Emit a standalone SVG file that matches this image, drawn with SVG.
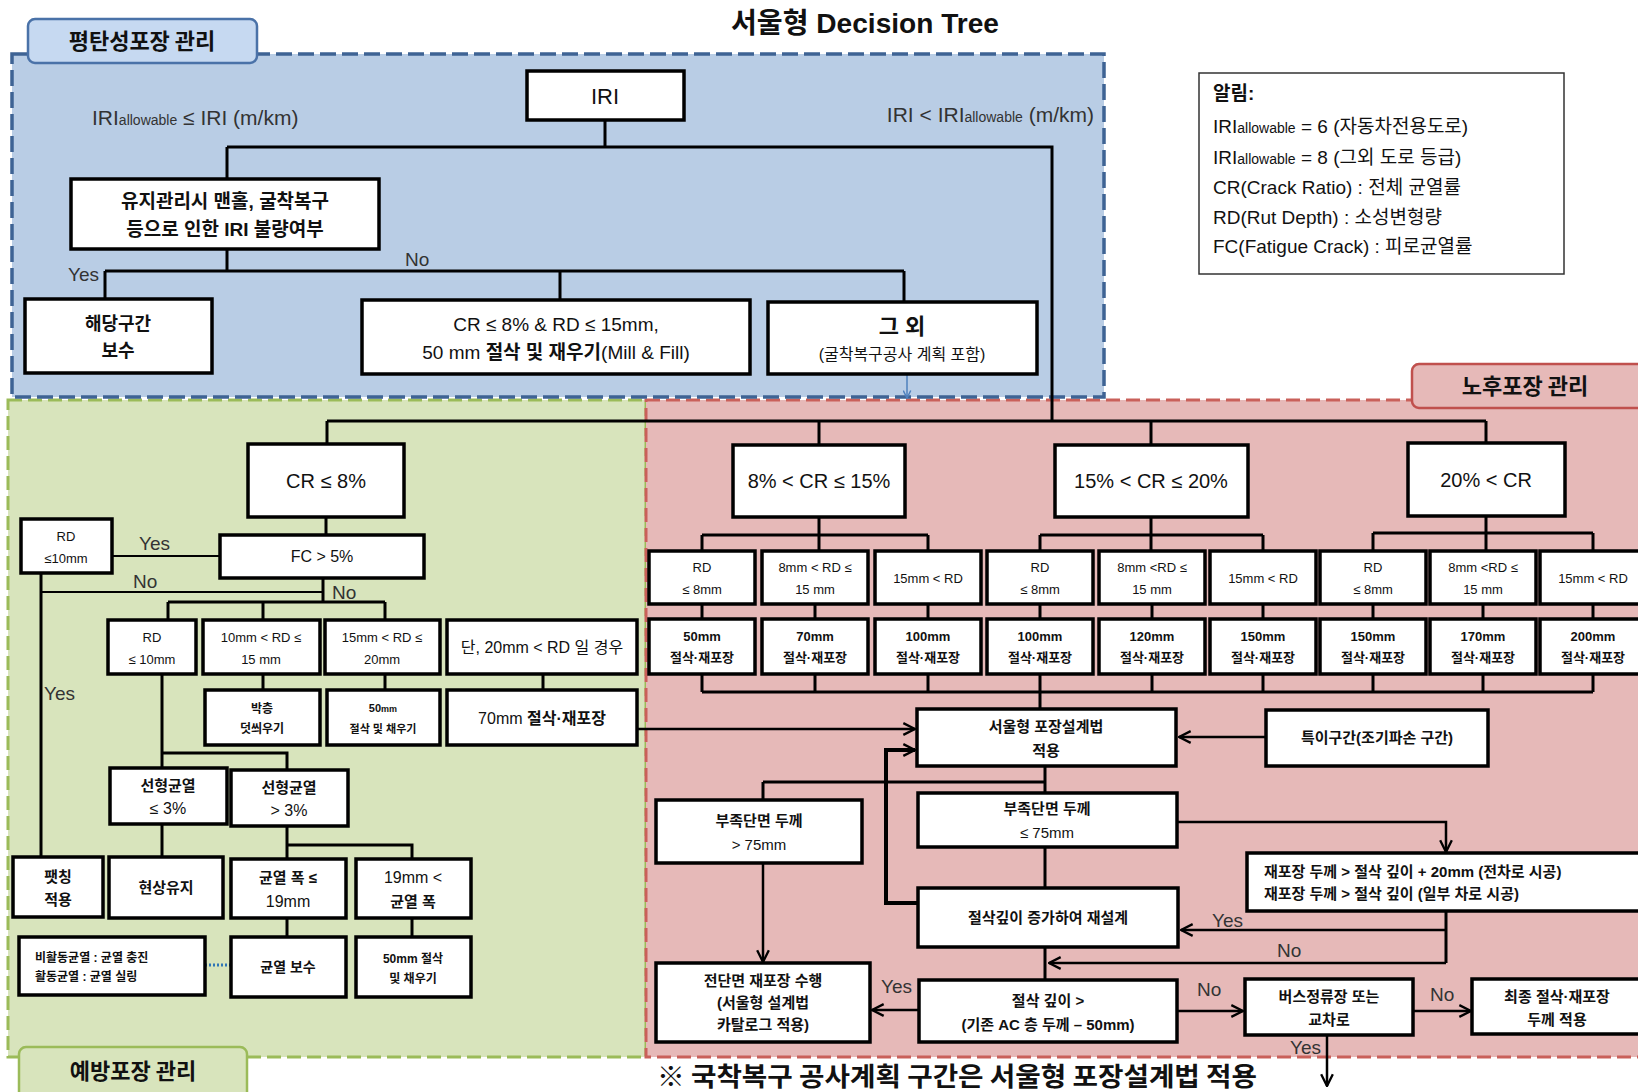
<svg xmlns="http://www.w3.org/2000/svg" width="1638" height="1092" viewBox="0 0 1638 1092">
<defs>
<style>
.t{font-family:'Liberation Sans','Noto Sans CJK KR',sans-serif;fill:#111;text-anchor:middle}
.k{font-family:'Liberation Sans','Noto Sans CJK KR',sans-serif;font-weight:700;fill:#111;text-anchor:middle}
.s{text-anchor:start}
.lab{font-family:'Liberation Sans','Noto Sans CJK KR',sans-serif;fill:#333;font-size:19px}
.box{fill:#fff;stroke:#000;stroke-width:3.5}
.c{fill:none;stroke:#000;stroke-width:3}
.ct{fill:none;stroke:#000;stroke-width:2}
.a{fill:none;stroke:#000;stroke-width:2.5;marker-end:url(#ah)}
.sec{font-family:'Noto Sans CJK KR',sans-serif;font-weight:700;font-size:22px;fill:#111;text-anchor:middle}
</style>
<marker id="ah" viewBox="0 0 12 12" refX="11" refY="6" markerWidth="14" markerHeight="14" markerUnits="userSpaceOnUse" orient="auto">
<path d="M1,1 L11,6 L1,11" fill="none" stroke="#000" stroke-width="2"/>
</marker>
<marker id="ahb" viewBox="0 0 12 12" refX="11" refY="6" markerWidth="9" markerHeight="9" markerUnits="userSpaceOnUse" orient="auto">
<path d="M1,1 L11,6 L1,11" fill="none" stroke="#4f81bd" stroke-width="2"/>
</marker>
</defs>
<rect width="1638" height="1092" fill="#fff"/>

<!-- sections -->
<g id="sec-green">
<rect x="8" y="400" width="638" height="657" fill="#d8e4bc" stroke="#9bbb59" stroke-width="3" stroke-dasharray="14,6"/>
</g>
<g id="sec-red">
<rect x="646" y="400" width="1004" height="657" fill="#e6b9b8" stroke="#c9605a" stroke-width="3" stroke-dasharray="14,6"/>
</g>
<g id="sec-blue">
<rect x="12" y="54" width="1092" height="343" fill="#b9cde5" stroke="#3e6394" stroke-width="3.5" stroke-dasharray="16,6"/>
</g>

<text x="865" y="33" class="k" font-size="28" textLength="268" lengthAdjust="spacingAndGlyphs">서울형 Decision Tree</text>

<g id="label-blue">
<rect x="28" y="19" width="229" height="44" rx="7" fill="#c6d9f1" stroke="#4a72a8" stroke-width="2.5"/>
<text x="142" y="49" class="sec">평탄성포장 관리</text>
</g>
<g id="label-red">
<rect x="1412" y="364" width="240" height="44" rx="7" fill="#e6b9b8" stroke="#c0504d" stroke-width="2.5"/>
<text x="1525" y="394" class="sec">노후포장 관리</text>
</g>
<g id="label-green">
<rect x="19" y="1047" width="228" height="52" rx="7" fill="#d8e4bc" stroke="#9bbb59" stroke-width="2.5"/>
<text x="133" y="1079" class="sec">예방포장 관리</text>
</g>

<g id="legend">
<rect x="1199" y="73" width="365" height="201" fill="#fff" stroke="#333" stroke-width="1.5"/>
<g font-family="'Liberation Sans','Noto Sans CJK KR',sans-serif" font-size="19" fill="#111">
<text x="1213" y="100" font-weight="700">알림:</text>
<text x="1213" y="133">IRI<tspan font-size="14">allowable</tspan> = 6 (자동차전용도로)</text>
<text x="1213" y="164">IRI<tspan font-size="14">allowable</tspan> = 8 (그외 도로 등급)</text>
<text x="1213" y="194">CR(Crack Ratio) : 전체 균열률</text>
<text x="1213" y="224">RD(Rut Depth) : 소성변형량</text>
<text x="1213" y="253">FC(Fatigue Crack) : 피로균열률</text>
</g>
</g>

<!-- connectors -->
<g id="connectors">
<path class="c" d="M605,120 V147 M227,147 H1052 V421 M227,147 V179 M227,249 V271 M105,271 H904 M105,271 V299 M560,271 V300 M904,271 V302"/>
<path d="M907,374 V398" fill="none" stroke="#4f81bd" stroke-width="1.5" marker-end="url(#ahb)"/>
<path class="c" d="M327,421 H1486 M327,421 V444 M819,421 V445 M1151,421 V445 M1486,421 V443"/>
<!-- green -->
<path class="c" d="M326,517 V535 M323,578 V602 M168,602 H385 M168,602 V620 M263,602 V620 M385,602 V620"/>
<path class="ct" d="M112,556 H220 M41,592 H323"/>
<path class="c" d="M41,573 V857 M263,674 V690 M385,674 V690 M543,674 V690"/>
<path class="a" d="M637,729 H915"/>
<path class="c" d="M162,674 V768 M162,753 H287 V770 M162,824 V857 M287,826 V859 M287,845 H412 V859 M287,918 V937 M412,918 V937"/>
<path d="M205,965 H231" stroke="#2e75b6" stroke-width="3" stroke-dasharray="2,2"/>
<!-- red -->
<path class="c" d="M819,517 V551 M702,535 H928 M702,535 V551 M928,535 V551 M1151,517 V551 M1040,535 H1263 M1040,535 V551 M1263,535 V551 M1486,516 V551 M1373,533 H1593 M1373,533 V551 M1593,533 V551"/>
<path class="c" d="M702,604 V619 M815,604 V619 M928,604 V619 M1040,604 V619 M1152,604 V619 M1263,604 V619 M1373,604 V619 M1483,604 V619 M1593,604 V619"/>
<path class="c" d="M702,674 V692 M815,674 V692 M928,674 V692 M1040,674 V709 M1152,674 V692 M1263,674 V692 M1373,674 V692 M1483,674 V692 M1593,674 V692 M702,692 H1593"/>
<path class="a" d="M1266,737 H1179"/>
<path class="c" d="M1045,766 V793 M763,782 H1045 M763,782 V800 M1045,847 V888 M1045,947 V980"/>
<path class="a" d="M1177,822 H1446 V852"/>
<path class="a" d="M763,863 V962"/>
<path d="M918,903 H886 V750 H915" fill="none" stroke="#000" stroke-width="4" marker-end="url(#ah)"/>
<path class="c" d="M1446,911 V963"/>
<path class="a" d="M1446,930 H1181"/>
<path class="a" d="M1446,963 H1049"/>
<path class="a" d="M919,1010 H872"/>
<path class="a" d="M1177,1011 H1243"/>
<path class="a" d="M1413,1011 H1471"/>
<path class="a" d="M1327,1035 V1086"/>
</g>

<!-- connector labels -->
<g id="edge-labels" class="lab">
<text x="92" y="125" font-size="21">IRI<tspan font-size="14">allowable</tspan> ≤ IRI (m/km)</text>
<text x="1094" y="122" font-size="21" text-anchor="end">IRI &lt; IRI<tspan font-size="14">allowable</tspan> (m/km)</text>
<text x="68" y="281">Yes</text>
<text x="405" y="266">No</text>
<text x="139" y="550">Yes</text>
<text x="133" y="588">No</text>
<text x="332" y="599">No</text>
<text x="44" y="700">Yes</text>
<text x="1212" y="927">Yes</text>
<text x="1277" y="957">No</text>
<text x="881" y="993">Yes</text>
<text x="1197" y="996">No</text>
<text x="1430" y="1001">No</text>
<text x="1290" y="1054">Yes</text>
</g>

<!-- blue nodes -->
<g id="n-iri"><rect class="box" x="527" y="71" width="157" height="49"/><text class="t" x="605" y="104" font-size="22">IRI</text></g>
<g id="n-check"><rect class="box" x="71" y="179" width="308" height="70"/><text class="k" x="225" y="208" font-size="19">유지관리시 맨홀, 굴착복구</text><text class="k" x="225" y="236" font-size="19">등으로 인한 IRI 불량여부</text></g>
<g id="n-repair"><rect class="box" x="25" y="299" width="187" height="74"/><text class="k" x="118" y="330" font-size="18">해당구간</text><text class="k" x="118" y="357" font-size="18">보수</text></g>
<g id="n-millfill"><rect class="box" x="362" y="300" width="388" height="74"/><text class="t" x="556" y="331" font-size="19">CR ≤ 8% &amp; RD ≤ 15mm,</text><text class="t" x="556" y="359" font-size="19">50 mm <tspan font-weight="700">절삭 및 재우기</tspan>(Mill &amp; Fill)</text></g>
<g id="n-other"><rect class="box" x="768" y="302" width="269" height="72"/><text class="k" x="902" y="334" font-size="22">그 외</text><text class="t" x="902" y="360" font-size="16">(굴착복구공사 계획 포함)</text></g>

<!-- CR nodes -->
<g id="n-cr8"><rect class="box" x="248" y="444" width="156" height="73"/><text class="t" x="326" y="488" font-size="20">CR ≤ 8%</text></g>
<g id="n-cr15"><rect class="box" x="733" y="445" width="172" height="72"/><text class="t" x="819" y="488" font-size="20">8% &lt; CR ≤ 15%</text></g>
<g id="n-cr20"><rect class="box" x="1055" y="445" width="193" height="72"/><text class="t" x="1151" y="488" font-size="20">15% &lt; CR ≤ 20%</text></g>
<g id="n-cr20p"><rect class="box" x="1408" y="443" width="157" height="73"/><text class="t" x="1486" y="487" font-size="20">20% &lt; CR</text></g>

<!-- green nodes -->
<g id="n-fc"><rect class="box" x="220" y="535" width="204" height="43"/><text class="t" x="322" y="562" font-size="16">FC &gt; 5%</text></g>
<g id="n-rd10a"><rect class="box" x="21" y="519" width="91" height="54"/><text class="t" x="66" y="541" font-size="13">RD</text><text class="t" x="66" y="563" font-size="13">≤10mm</text></g>
<g id="n-rd10b"><rect class="box" x="108" y="620" width="88" height="54"/><text class="t" x="152" y="642" font-size="13">RD</text><text class="t" x="152" y="664" font-size="13">≤ 10mm</text></g>
<g id="n-rd15"><rect class="box" x="203" y="620" width="117" height="54"/><text class="t" x="261" y="642" font-size="13">10mm &lt; RD ≤</text><text class="t" x="261" y="664" font-size="13">15 mm</text></g>
<g id="n-rd20"><rect class="box" x="325" y="620" width="115" height="54"/><text class="t" x="382" y="642" font-size="13">15mm &lt; RD ≤</text><text class="t" x="382" y="664" font-size="13">20mm</text></g>
<g id="n-rd20p"><rect class="box" x="447" y="620" width="190" height="54"/><text class="t" x="542" y="653" font-size="16">단, 20mm &lt; RD 일 경우</text></g>
<g id="n-thin"><rect class="box" x="205" y="690" width="115" height="55"/><text class="k" x="262" y="713" font-size="12">박층</text><text class="k" x="262" y="733" font-size="12">덧씌우기</text></g>
<g id="n-50a"><rect class="box" x="327" y="690" width="113" height="55"/><text class="k" x="383" y="712" font-size="11">50<tspan font-size="9">mm</tspan></text><text class="k" x="383" y="733" font-size="11">절삭 및 채우기</text></g>
<g id="n-70"><rect class="box" x="447" y="690" width="190" height="55"/><text class="t" x="542" y="724" font-size="16">70mm <tspan font-weight="700">절삭·재포장</tspan></text></g>
<g id="n-lin3a"><rect class="box" x="110" y="768" width="117" height="56"/><text class="k" x="168" y="791" font-size="15">선형균열</text><text class="t" x="168" y="814" font-size="16">≤ 3%</text></g>
<g id="n-lin3b"><rect class="box" x="231" y="770" width="117" height="56"/><text class="k" x="289" y="793" font-size="15">선형균열</text><text class="t" x="289" y="816" font-size="16">&gt; 3%</text></g>
<g id="n-patch"><rect class="box" x="13" y="857" width="90" height="60"/><text class="k" x="58" y="882" font-size="15">팻칭</text><text class="k" x="58" y="905" font-size="15">적용</text></g>
<g id="n-keep"><rect class="box" x="109" y="857" width="114" height="61"/><text class="k" x="166" y="893" font-size="15">현상유지</text></g>
<g id="n-w19a"><rect class="box" x="231" y="859" width="115" height="59"/><text class="k" x="288" y="883" font-size="15">균열 폭 ≤</text><text class="t" x="288" y="907" font-size="16">19mm</text></g>
<g id="n-w19b"><rect class="box" x="356" y="859" width="115" height="59"/><text class="t" x="413" y="883" font-size="16">19mm &lt;</text><text class="k" x="413" y="907" font-size="15">균열 폭</text></g>
<g id="n-crackfill"><rect class="box" x="19" y="937" width="186" height="58"/><text class="k s" x="35" y="962" font-size="12">비활동균열 : 균열 충진</text><text class="k s" x="35" y="981" font-size="12">활동균열 : 균열 실링</text></g>
<g id="n-crackrep"><rect class="box" x="231" y="937" width="115" height="60"/><text class="k" x="288" y="972" font-size="14">균열 보수</text></g>
<g id="n-50b"><rect class="box" x="356" y="937" width="115" height="60"/><text class="k" x="413" y="963" font-size="12">50mm 절삭</text><text class="k" x="413" y="983" font-size="12">및 채우기</text></g>

<!-- red rows -->
<g id="n-r1a"><rect class="box" x="649" y="551" width="106" height="53"/><text class="t" x="702" y="572" font-size="13">RD</text><text class="t" x="702" y="594" font-size="13">≤ 8mm</text></g>
<g id="n-r1b"><rect class="box" x="762" y="551" width="106" height="53"/><text class="t" x="815" y="572" font-size="13">8mm &lt; RD ≤</text><text class="t" x="815" y="594" font-size="13">15 mm</text></g>
<g id="n-r1c"><rect class="box" x="875" y="551" width="106" height="53"/><text class="t" x="928" y="583" font-size="13">15mm &lt; RD</text></g>
<g id="n-r1d"><rect class="box" x="987" y="551" width="106" height="53"/><text class="t" x="1040" y="572" font-size="13">RD</text><text class="t" x="1040" y="594" font-size="13">≤ 8mm</text></g>
<g id="n-r1e"><rect class="box" x="1099" y="551" width="106" height="53"/><text class="t" x="1152" y="572" font-size="13">8mm &lt;RD ≤</text><text class="t" x="1152" y="594" font-size="13">15 mm</text></g>
<g id="n-r1f"><rect class="box" x="1210" y="551" width="106" height="53"/><text class="t" x="1263" y="583" font-size="13">15mm &lt; RD</text></g>
<g id="n-r1g"><rect class="box" x="1320" y="551" width="106" height="53"/><text class="t" x="1373" y="572" font-size="13">RD</text><text class="t" x="1373" y="594" font-size="13">≤ 8mm</text></g>
<g id="n-r1h"><rect class="box" x="1430" y="551" width="106" height="53"/><text class="t" x="1483" y="572" font-size="13">8mm &lt;RD ≤</text><text class="t" x="1483" y="594" font-size="13">15 mm</text></g>
<g id="n-r1i"><rect class="box" x="1540" y="551" width="110" height="53"/><text class="t" x="1593" y="583" font-size="13">15mm &lt; RD</text></g>

<g id="n-r2a"><rect class="box" x="649" y="619" width="106" height="55"/><text class="k" x="702" y="641" font-size="13">50mm</text><text class="k" x="702" y="662" font-size="13">절삭·재포장</text></g>
<g id="n-r2b"><rect class="box" x="762" y="619" width="106" height="55"/><text class="k" x="815" y="641" font-size="13">70mm</text><text class="k" x="815" y="662" font-size="13">절삭·재포장</text></g>
<g id="n-r2c"><rect class="box" x="875" y="619" width="106" height="55"/><text class="k" x="928" y="641" font-size="13">100mm</text><text class="k" x="928" y="662" font-size="13">절삭·재포장</text></g>
<g id="n-r2d"><rect class="box" x="987" y="619" width="106" height="55"/><text class="k" x="1040" y="641" font-size="13">100mm</text><text class="k" x="1040" y="662" font-size="13">절삭·재포장</text></g>
<g id="n-r2e"><rect class="box" x="1099" y="619" width="106" height="55"/><text class="k" x="1152" y="641" font-size="13">120mm</text><text class="k" x="1152" y="662" font-size="13">절삭·재포장</text></g>
<g id="n-r2f"><rect class="box" x="1210" y="619" width="106" height="55"/><text class="k" x="1263" y="641" font-size="13">150mm</text><text class="k" x="1263" y="662" font-size="13">절삭·재포장</text></g>
<g id="n-r2g"><rect class="box" x="1320" y="619" width="106" height="55"/><text class="k" x="1373" y="641" font-size="13">150mm</text><text class="k" x="1373" y="662" font-size="13">절삭·재포장</text></g>
<g id="n-r2h"><rect class="box" x="1430" y="619" width="106" height="55"/><text class="k" x="1483" y="641" font-size="13">170mm</text><text class="k" x="1483" y="662" font-size="13">절삭·재포장</text></g>
<g id="n-r2i"><rect class="box" x="1540" y="619" width="110" height="55"/><text class="k" x="1593" y="641" font-size="13">200mm</text><text class="k" x="1593" y="662" font-size="13">절삭·재포장</text></g>

<!-- lower red nodes -->
<g id="n-seoul"><rect class="box" x="917" y="709" width="259" height="57"/><text class="k" x="1046" y="732" font-size="15">서울형 포장설계법</text><text class="k" x="1046" y="756" font-size="15">적용</text></g>
<g id="n-special"><rect class="box" x="1266" y="710" width="222" height="56"/><text class="k" x="1377" y="743" font-size="15">특이구간(조기파손 구간)</text></g>
<g id="n-gt75"><rect class="box" x="656" y="800" width="206" height="63"/><text class="k" x="759" y="826" font-size="15">부족단면 두께</text><text class="t" x="759" y="850" font-size="15">&gt; 75mm</text></g>
<g id="n-le75"><rect class="box" x="918" y="793" width="259" height="54"/><text class="k" x="1047" y="814" font-size="15">부족단면 두께</text><text class="t" x="1047" y="838" font-size="15">≤ 75mm</text></g>
<g id="n-overlay"><rect class="box" x="1247" y="853" width="400" height="58"/><text class="k s" x="1264" y="877" font-size="15">재포장 두께 &gt; 절삭 깊이 + 20mm (전차로 시공)</text><text class="k s" x="1264" y="899" font-size="15">재포장 두께 &gt; 절삭 깊이 (일부 차로 시공)</text></g>
<g id="n-redesign"><rect class="box" x="918" y="888" width="260" height="59"/><text class="k" x="1048" y="923" font-size="15">절삭깊이 증가하여 재설계</text></g>
<g id="n-full"><rect class="box" x="656" y="963" width="214" height="79"/><text class="k" x="763" y="986" font-size="15">전단면 재포장 수행</text><text class="k" x="763" y="1008" font-size="15">(서울형 설계법</text><text class="k" x="763" y="1030" font-size="15">카탈로그 적용)</text></g>
<g id="n-depth"><rect class="box" x="919" y="980" width="258" height="62"/><text class="k" x="1048" y="1006" font-size="15">절삭 깊이 &gt;</text><text class="k" x="1048" y="1030" font-size="15">(기존 AC 층 두께 – 50mm)</text></g>
<g id="n-bus"><rect class="box" x="1245" y="979" width="168" height="56"/><text class="k" x="1329" y="1002" font-size="15">버스정류장 또는</text><text class="k" x="1329" y="1025" font-size="15">교차로</text></g>
<g id="n-final"><rect class="box" x="1472" y="979" width="175" height="55"/><text class="k" x="1557" y="1002" font-size="15">최종 절삭·재포장</text><text class="k" x="1557" y="1025" font-size="15">두께 적용</text></g>

<text x="657" y="1086" font-family="'Noto Sans CJK KR',sans-serif" font-weight="700" font-size="26" fill="#111" textLength="600" lengthAdjust="spacingAndGlyphs">※ 국착복구 공사계획 구간은 서울형 포장설계법 적용</text>
</svg>
